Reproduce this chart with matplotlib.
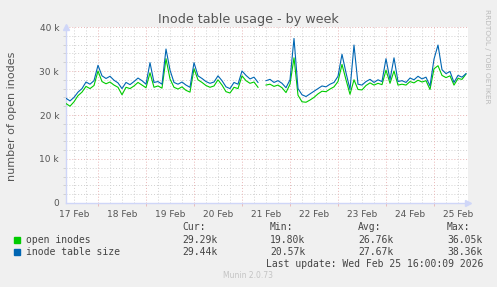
import numpy as np
import matplotlib
matplotlib.use("Agg")
import matplotlib.pyplot as plt
from matplotlib.ticker import FixedLocator, MultipleLocator

# time in hours since 17 Feb 00:00, 2-hour steps
hours = list(range(8, 210, 2))
nan = float("nan")
table_size = [
    23.8, 23.2, 24.0, 25.2, 26.0, 27.5, 27.0, 27.8, 31.3, 28.9,
    28.3, 28.8, 27.9, 27.3, 26.0, 27.4, 26.9, 27.6, 28.4, 27.8,
    27.0, 31.9, 27.4, 27.6, 27.0, 35.0, 30.2, 27.4, 27.0, 27.5,
    26.8, 26.3, 31.9, 28.9, 28.3, 27.6, 27.2, 27.5, 28.9, 27.8,
    26.4, 26.0, 27.4, 27.0, 30.0, 29.0, 28.2, 28.6, 27.4, nan,
    27.8, 28.1, 27.4, 27.8, 27.2, 26.2, 28.0, 37.4, 26.0, 24.6,
    24.2, 24.8, 25.4, 26.0, 26.6, 26.4, 27.0, 27.4, 28.8, 33.8,
    29.6, 25.8, 35.9, 27.0, 26.8, 27.6, 28.1, 27.4, 28.0, 27.6,
    32.8, 28.0, 33.0, 27.6, 27.8, 27.4, 28.4, 28.0, 28.8, 28.2,
    28.6, 26.6, 32.7, 35.9, 30.3, 29.4, 29.9, 27.4, 29.0, 28.6,
    29.4,
]
open_inodes = [
    22.6, 22.0, 23.0, 24.4, 25.2, 26.5, 26.0, 26.7, 30.0, 27.6,
    27.1, 27.5, 26.8, 26.3, 24.6, 26.3, 26.0, 26.6, 27.4, 26.8,
    26.2, 29.6, 26.3, 26.6, 26.1, 32.8, 28.2, 26.3, 25.9, 26.4,
    25.6, 25.2, 30.5, 28.0, 27.4, 26.7, 26.3, 26.6, 28.0, 26.8,
    25.3, 25.0, 26.3, 26.0, 28.9, 27.8, 27.2, 27.5, 26.3, nan,
    26.8, 27.0, 26.5, 26.8, 26.2, 25.1, 27.0, 33.0, 24.5, 23.0,
    22.9, 23.4, 24.0, 24.8, 25.4, 25.3, 25.9, 26.4, 27.6, 31.5,
    28.0, 24.7, 28.0, 25.8, 25.7, 26.7, 27.3, 26.8, 27.2, 26.9,
    30.2, 27.2, 30.0, 26.8, 27.0, 26.8, 27.6, 27.3, 27.9, 27.5,
    27.8, 25.8, 30.5, 31.2, 29.0, 28.5, 28.9, 26.8, 28.3, 28.1,
    29.3,
]
day_labels = ["17 Feb", "18 Feb", "19 Feb", "20 Feb", "21 Feb",
              "22 Feb", "23 Feb", "24 Feb", "25 Feb"]
y_ticks = [0, 10000, 20000, 30000, 40000]
y_labels = ["0", "10 k", "20 k", "30 k", "40 k"]
series_names = ["open inodes", "inode table size"]
series_colors = ["#00CC00", "#0066B3"]
stats_cur = ["29.29k", "29.44k"]
stats_min = ["19.80k", "20.57k"]
stats_avg = ["26.76k", "27.67k"]
stats_max = ["36.05k", "38.36k"]

W, H = 497, 287
fig = plt.figure(figsize=(W / 100, H / 100), dpi=100, facecolor="#F0F0F0")
ax = fig.add_axes([66 / W, 84 / H, 402 / W, 176 / H])
ax.set_facecolor("white")

h = np.array(hours, dtype=float)
ax.plot(h, np.array(open_inodes) * 1000, color=series_colors[0], lw=0.8, zorder=3)
ax.plot(h, np.array(table_size) * 1000, color=series_colors[1], lw=0.8, zorder=4)

ax.set_xlim(8, 209)
ax.set_ylim(0, 40000)

# grids
for yv in np.arange(2000, 40001, 2000):
    if yv % 10000 == 0:
        ax.axhline(yv, color="#E8B4B4", lw=0.7, ls=(0, (1, 2)), zorder=1)
    else:
        ax.axhline(yv, color="#D0D0D0", lw=0.7, ls=(0, (1, 2)), zorder=1)
for xv in np.arange(12, 209, 6):
    if xv % 24 == 0:
        ax.axvline(xv, color="#E8B4B4", lw=0.7, ls=(0, (1, 2)), zorder=1)
    else:
        ax.axvline(xv, color="#D0D0D0", lw=0.7, ls=(0, (1, 2)), zorder=1)

ax.set_yticks(y_ticks)
ax.set_yticklabels(y_labels)
ax.yaxis.set_minor_locator(MultipleLocator(2000))
ax.set_xticks([12 + 24 * i for i in range(len(day_labels))])
ax.set_xticklabels(day_labels)
ax.xaxis.set_minor_locator(FixedLocator(list(range(24, 209, 24))))
ax.tick_params(axis="both", which="major", labelsize=6.5, labelcolor="#555555",
               length=0, pad=5)
ax.tick_params(axis="y", which="minor", length=2, color="#CCCCCC")
ax.tick_params(axis="x", which="minor", length=2, color="#E8B4B4")

for s in ["top", "right"]:
    ax.spines[s].set_visible(False)
for s in ["left", "bottom"]:
    ax.spines[s].set_color("#CFD6F8")
    ax.spines[s].set_linewidth(1.0)

# arrows
ax.plot([0], [1.0], marker="^", color="#CFD6F8", markersize=5, transform=ax.transAxes,
        clip_on=False, zorder=5)
ax.plot([1.0], [0], marker=">", color="#CFD6F8", markersize=5, transform=ax.transAxes,
        clip_on=False, zorder=5)


def P(x, y):
    return (x / W, 1 - y / H)


fig.text(*P(248, 19), "Inode table usage - by week", ha="center", va="center",
         fontsize=9.2, color="#555555")
fig.text(*P(12, 116), "number of open inodes", ha="center", va="center",
         rotation=90, fontsize=8, color="#555555")
fig.text(*P(487, 56), "RRDTOOL / TOBI OETIKER", ha="center", va="center",
         rotation=270, fontsize=5.3, color="#BBBBBB")

mono = "DejaVu Sans Mono"
lc = "#444444"
cols = [182, 270, 358, 447]
for x, t in zip(cols, ["Cur:", "Min:", "Avg:", "Max:"]):
    fig.text(*P(x, 227), t, ha="left", va="center", family=mono, fontsize=7, color=lc)
rows_y = [240, 252]
for i in range(2):
    y = rows_y[i]
    fig.patches.append(plt.Rectangle(P(14, y + 2.5), 5.5 / W, 5.5 / H,
                                     transform=fig.transFigure,
                                     color=series_colors[i], figure=fig))
    fig.text(*P(26.5, y), series_names[i], ha="left", va="center", family=mono,
             fontsize=7, color=lc)
    for x, v in zip(cols, [stats_cur[i], stats_min[i], stats_avg[i], stats_max[i]]):
        fig.text(*P(x, y), v, ha="left", va="center", family=mono, fontsize=7, color=lc)
fig.text(*P(483, 264), "Last update: Wed Feb 25 16:00:09 2026", ha="right", va="center",
         family=mono, fontsize=7, color=lc)
fig.text(*P(248, 276), "Munin 2.0.73", ha="center", va="center", fontsize=5.5,
         color="#C4C4C4")

fig.savefig("out.png", dpi=100, facecolor=fig.get_facecolor())
